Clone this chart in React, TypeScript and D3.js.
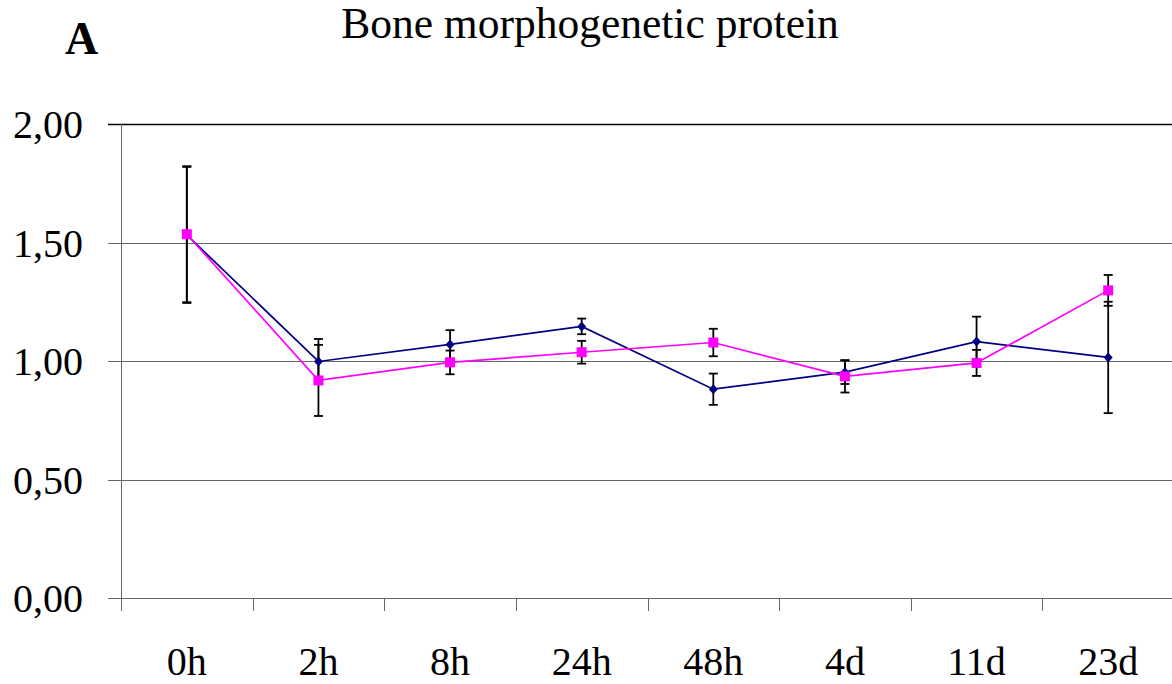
import React from "react";
import * as d3 from "d3";

const categories = ["0h", "2h", "8h", "24h", "48h", "4d", "11d", "23d"];
const navyValues = [1.532, 0.998, 1.07, 1.146, 0.881, 0.953, 1.082, 1.015];
const navyErrors = [0.287, 0.095, 0.06, 0.033, 0.066, 0.05, 0.105, 0.235];
const pinkValues = [1.535, 0.918, 0.994, 1.037, 1.078, 0.935, 0.992, 1.298];
const pinkErrors = [0.287, 0.15, 0.05, 0.048, 0.058, 0.068, 0.055, 0.065];
const yTicks = [0, 0.5, 1, 1.5, 2];

const W = 1172;
const H = 684;
const left = 121;
const right = 1174;
const top = 124;
const bottom = 598;
const font = "'Liberation Serif', 'Times New Roman', serif";

export default function App() {
  const x = d3.scaleBand<string>().domain(categories).range([left, right]).padding(0);
  const y = d3.scaleLinear().domain([0, 2]).range([bottom, top]);
  const cx = (c: string) => (x(c) as number) + x.bandwidth() / 2;
  const fmt = (v: number) => v.toFixed(2).replace(".", ",");

  const line = d3
    .line<number>()
    .x((_, i) => cx(categories[i]))
    .y((v) => y(v));

  const series = [
    { values: navyValues, errors: navyErrors, color: "#000080", marker: "diamond" },
    { values: pinkValues, errors: pinkErrors, color: "#FF00FF", marker: "square" },
  ];

  return (
    <svg width={W} height={H} style={{ position: "absolute", left: 0, top: 0, background: "#fff" }}>
      <rect x={0} y={0} width={W} height={H} fill="#fff" />
      {yTicks.map((t) => (
        <line
          key={"g" + t}
          x1={left - 13}
          x2={right}
          y1={Math.round(y(t)) + 0.5}
          y2={Math.round(y(t)) + 0.5}
          stroke={t === 2 ? "#000" : "#666"}
          strokeWidth={t === 2 ? 1.3 : 1}
        />
      ))}
      <line x1={left + 0.5} x2={left + 0.5} y1={top} y2={bottom} stroke="#666" strokeWidth={1} />
      {categories.map((c) => (
        <line
          key={"t" + c}
          x1={Math.round(x(c) as number) + 0.5}
          x2={Math.round(x(c) as number) + 0.5}
          y1={bottom}
          y2={bottom + 13}
          stroke="#666"
          strokeWidth={1}
        />
      ))}
      {yTicks.map((t) => (
        <text
          key={"l" + t}
          x={83}
          y={y(t)}
          dy="0.35em"
          textAnchor="end"
          fontFamily={font}
          fontSize={40}
          fill="#000"
        >
          {fmt(t)}
        </text>
      ))}
      {categories.map((c) => (
        <text key={"xl" + c} x={cx(c)} y={675} textAnchor="middle" fontFamily={font} fontSize={40} fill="#000">
          {c}
        </text>
      ))}
      {series.map((s, si) => (
        <path key={"p" + si} d={line(s.values) || ""} fill="none" stroke={s.color} strokeWidth={1.7} />
      ))}
      {series.map((s, si) =>
        s.values.map((v, i) => {
          const px = cx(categories[i]);
          const y1 = y(v + s.errors[i]);
          const y2 = y(v - s.errors[i]);
          return (
            <g key={"e" + si + "-" + i} stroke="#000" strokeWidth={1.8}>
              <line x1={px} x2={px} y1={y1} y2={y2} />
              <line x1={px - 4.5} x2={px + 4.5} y1={y1} y2={y1} />
              <line x1={px - 4.5} x2={px + 4.5} y1={y2} y2={y2} />
            </g>
          );
        })
      )}
      {series.map((s, si) =>
        s.values.map((v, i) => {
          const px = cx(categories[i]);
          const py = y(v);
          if (s.marker === "square") {
            return <rect key={"m" + si + "-" + i} x={px - 5} y={py - 5} width={10} height={10} fill={s.color} />;
          }
          return (
            <path
              key={"m" + si + "-" + i}
              d={`M${px},${py - 5}L${px + 4.5},${py}L${px},${py + 5}L${px - 4.5},${py}Z`}
              fill={s.color}
            />
          );
        })
      )}
      <text x={590} y={38} textAnchor="middle" fontFamily={font} fontSize={43.5} fill="#000">
        Bone morphogenetic protein
      </text>
      <text x={65} y={54} fontFamily={font} fontSize={46} fontWeight="bold" fill="#000">
        A
      </text>
    </svg>
  );
}
